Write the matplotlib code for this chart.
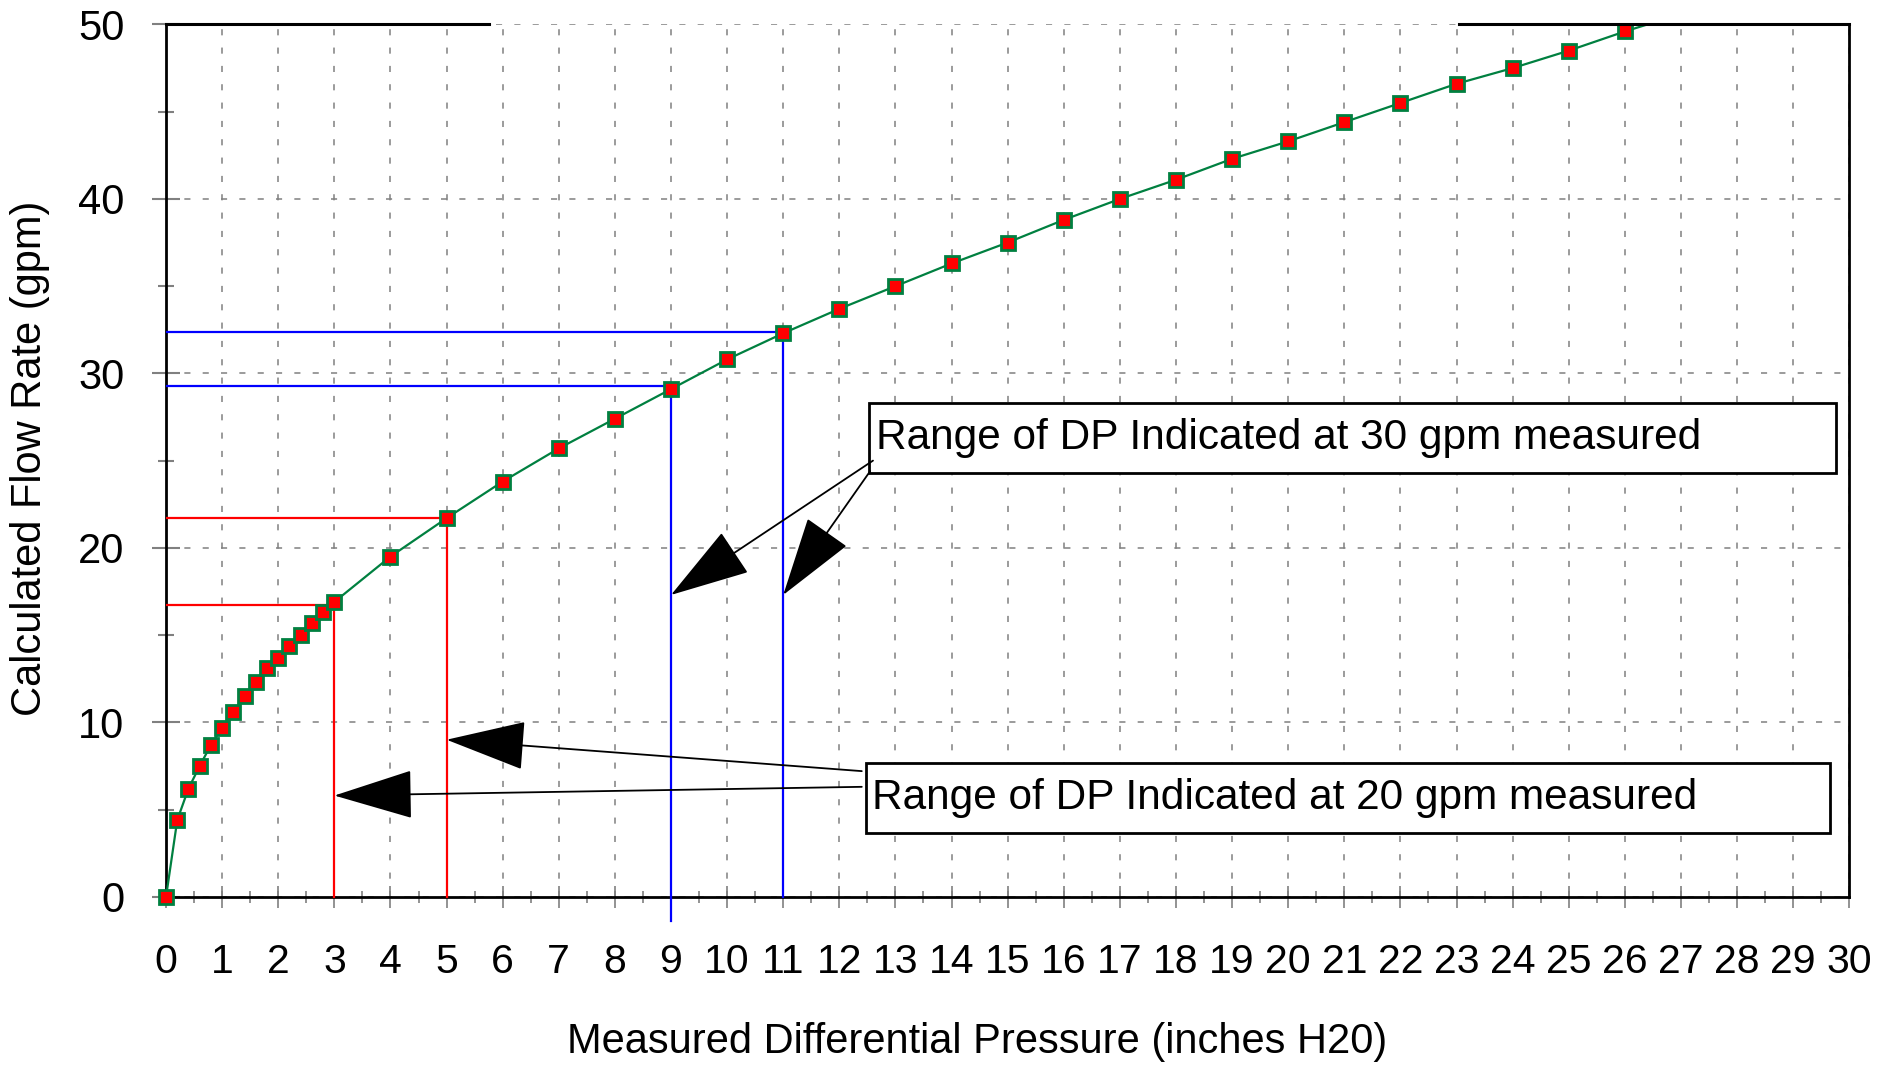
import matplotlib.pyplot as plt
from matplotlib.patches import Rectangle
from matplotlib.ticker import MultipleLocator

plt.rcParams['font.family'] = ['Liberation Sans', 'DejaVu Sans']

# measured differential pressure (inches H2O) vs calculated flow (gpm)
dp_in = [0, 0.2, 0.4, 0.6, 0.8, 1.0, 1.2, 1.4, 1.6, 1.8, 2.0, 2.2, 2.4, 2.6, 2.8, 3.0,
         4, 5, 6, 7, 8, 9, 10, 11, 12, 13, 14, 15, 16, 17, 18, 19, 20, 21, 22, 23,
         24, 25, 26, 27]
flow_gpm = [0, 4.4, 6.2, 7.5, 8.7, 9.7, 10.6, 11.5, 12.3, 13.1, 13.7, 14.4, 15.0, 15.7,
            16.3, 16.9, 19.5, 21.7, 23.8, 25.7, 27.4, 29.1, 30.8, 32.3, 33.7, 35.0, 36.3,
            37.5, 38.8, 40.0, 41.1, 42.3, 43.3, 44.4, 45.5, 46.6, 47.5, 48.5, 49.6, 50.6]

# range lines
ref_dp = [3, 5, 9, 11]
ref_flow = [16.7, 21.7, 29.3, 32.4]
ref_bottom = [0, 0, -1.4, 0]
ref_colors = ['#ff0000', '#ff0000', '#0000ff', '#0000ff']

# annotation boxes: (left, bottom, right, top) in data units, text, arrow start, arrow tips
box_30 = (12.53, 24.3, 29.76, 28.3)
text_30 = 'Range of DP Indicated at 30 gpm measured'
start_30 = [(12.6, 25.0), (12.55, 24.4)]
tips_30 = [(9, 17.3), (11, 17.3)]

box_20 = (12.47, 3.66, 29.66, 7.66)
text_20 = 'Range of DP Indicated at 20 gpm measured'
start_20 = [(12.4, 7.2), (12.4, 6.3)]
tips_20 = [(5, 9.0), (3, 5.8)]

top_border = [(0, 5.75), (23.05, 30)]

fig = plt.figure(figsize=(18.87, 10.65), dpi=100)
ax = fig.add_axes([0.088, 0.158, 0.892, 0.819])

ax.set_xlim(0, 30)
ax.set_ylim(0, 50)

ax.xaxis.set_major_locator(MultipleLocator(1))
ax.xaxis.set_minor_locator(MultipleLocator(0.5))
ax.yaxis.set_major_locator(MultipleLocator(10))
ax.yaxis.set_minor_locator(MultipleLocator(5))

ax.grid(True, which='major', color='#808080', linewidth=1.1, linestyle=(0, (4, 8)))

for sp in ['left', 'bottom', 'right']:
    ax.spines[sp].set_linewidth(2)
    ax.spines[sp].set_color('black')
ax.spines['top'].set_visible(False)
for x0, x1 in top_border:
    ax.plot([x0, x1], [50, 50], color='black', lw=2.2, clip_on=False, zorder=5)

ax.tick_params(axis='x', which='major', direction='inout', length=16, width=1.2,
               color='#808080', labelsize=29.5, pad=25)
ax.tick_params(axis='x', which='minor', direction='inout', length=9, width=1.2,
               color='#808080')
ax.tick_params(axis='y', which='major', direction='inout', length=20, width=1.5,
               color='#808080', labelsize=30, pad=20)
ax.tick_params(axis='y', which='minor', direction='inout', length=12, width=1.5,
               color='#808080')

# range lines
for x, y, yb, c in zip(ref_dp, ref_flow, ref_bottom, ref_colors):
    ax.plot([0, x], [y, y], color=c, lw=1.6, zorder=3)
    ax.plot([x, x], [yb, y], color=c, lw=1.6, zorder=3, clip_on=False)

# curve (line clipped at the top, markers drawn for points inside the range)
ax.plot(dp_in, flow_gpm, color='#008040', lw=1.6, zorder=4)
inside = [(x, y) for x, y in zip(dp_in, flow_gpm) if y <= 50]
ax.plot([p[0] for p in inside], [p[1] for p in inside], linestyle='none',
        marker='s', markersize=10.5, markerfacecolor='#ff0000',
        markeredgecolor='#008040', markeredgewidth=2, zorder=4, clip_on=False)

# annotation boxes
for box, txt in [(box_30, text_30), (box_20, text_20)]:
    l, b, r, t = box
    ax.add_patch(Rectangle((l, b), r - l, t - b, facecolor='white',
                           edgecolor='black', lw=2, zorder=6))
    ax.text(l + 0.12, (b + t) / 2, txt, fontsize=30.5, va='center', ha='left', zorder=7)

for starts, tips in [(start_30, tips_30), (start_20, tips_20)]:
    for s, tp in zip(starts, tips):
        ax.annotate('', xy=tp, xytext=s,
                    arrowprops=dict(arrowstyle='-|>,head_length=2.6,head_width=0.8',
                                    color='black', lw=1.3, shrinkA=0, shrinkB=0,
                                    mutation_scale=20), zorder=6)

fig.text(30 / 1887, 1 - 458 / 1065, 'Calculated Flow Rate (gpm)', rotation=90,
         fontsize=30, va='center', ha='center')
fig.text(977 / 1887, 1 - 1042 / 1065, 'Measured Differential Pressure (inches H20)',
         fontsize=30, va='center', ha='center')

fig.savefig('out.png', dpi=100)
